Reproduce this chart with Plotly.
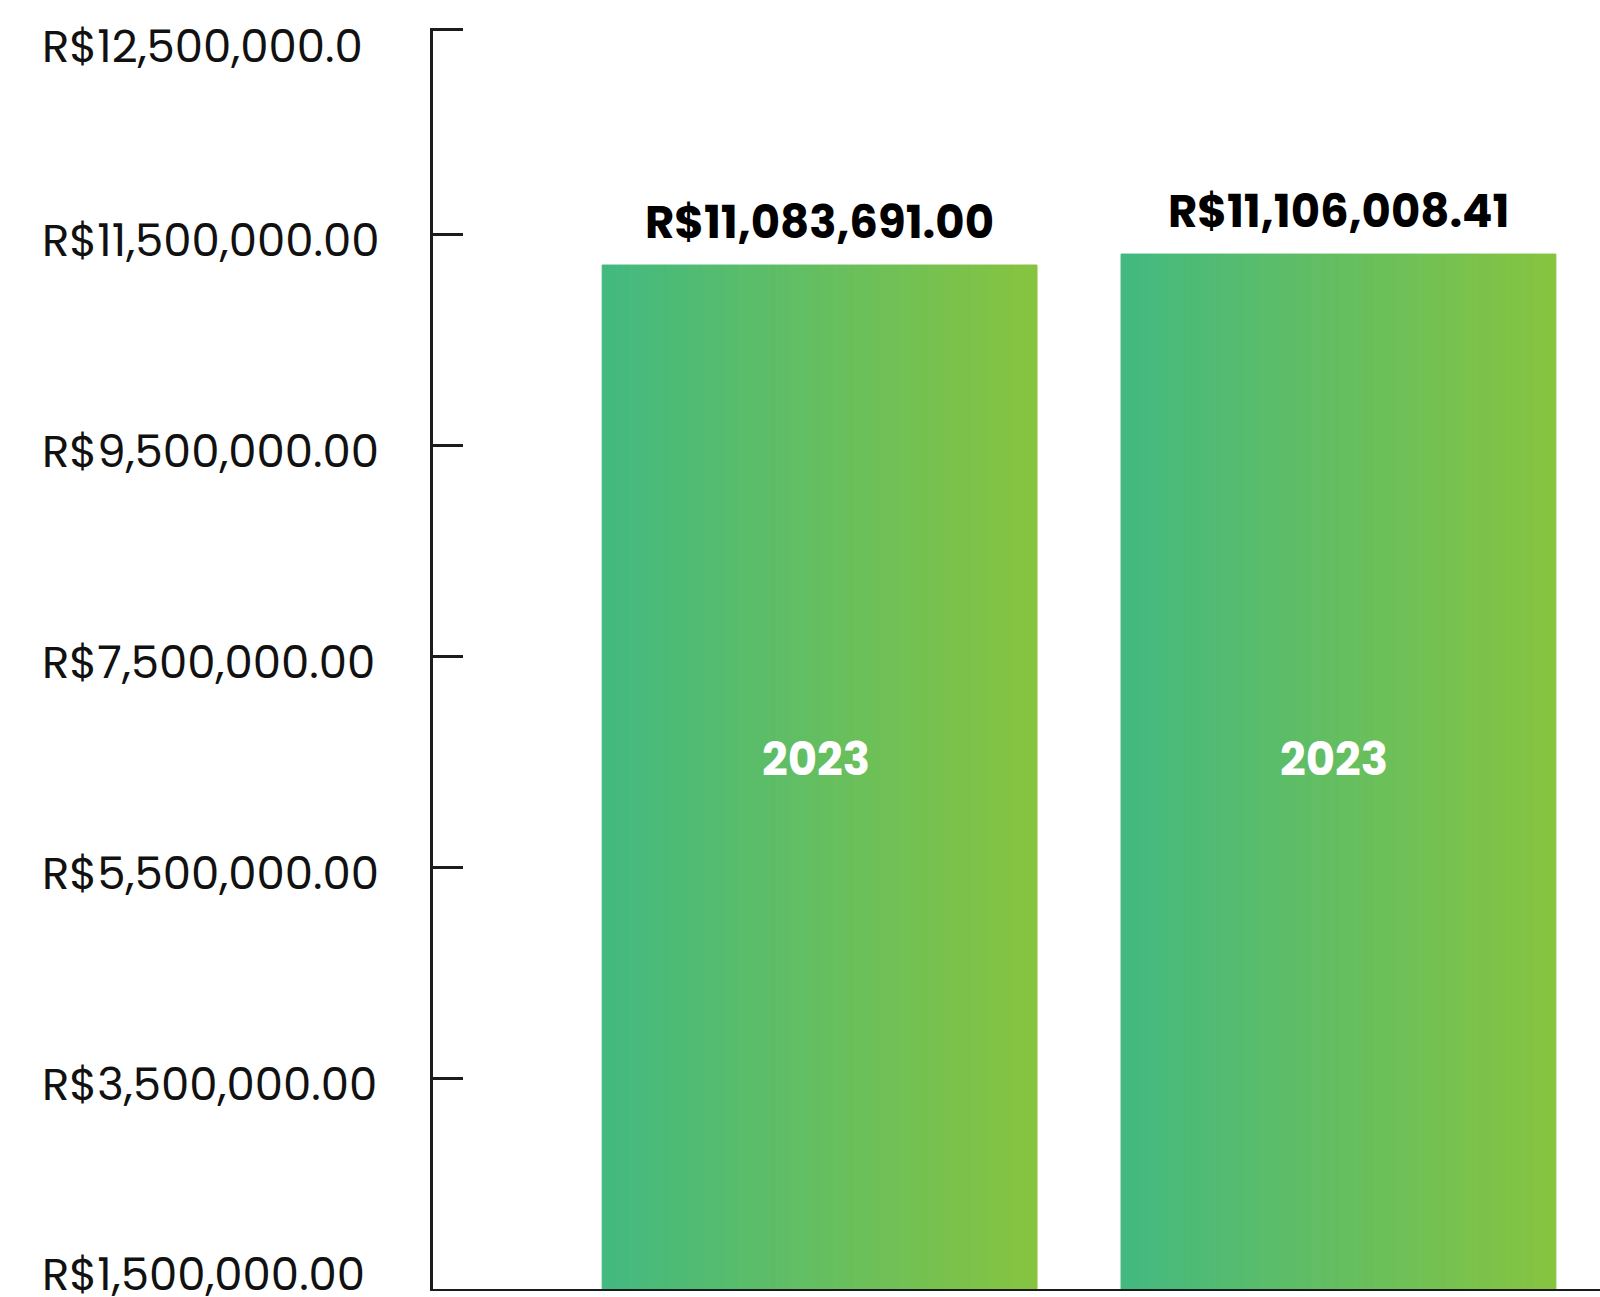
import plotly.graph_objects as go

# ---------------- data ----------------
categories = ["2023", "2023"]
values = [11083691.00, 11106008.41]
value_labels = ["R$11,083,691.00", "R$11,106,008.41"]
tick_values = [1500000, 3500000, 5500000, 7500000, 9500000, 11500000]
tick_labels = ["R$1,500,000.00", "R$3,500,000.00", "R$5,500,000.00",
               "R$7,500,000.00", "R$9,500,000.00", "R$11,500,000.00"]
top_label = "R$12,500,000.0"

# ---------------- style ----------------
W, H = 1600, 1297
margin = dict(l=433, r=0, t=28, b=8)
axis_range = [1500000, 13453000]     # visible axis
bar_range = [9000000, 11566000]      # scale the bars are drawn on
x_range = [-0.745, 1.504]
c_left = (67, 185, 128)
c_right = (134, 196, 64)
n_strips = 60
line_col = "#1c1c1c"
fam = "Poppins, Inter, sans-serif"
tick_font = dict(family=fam, size=45, color="#111111")
value_font = dict(family=fam, size=45, color="#000000", weight=700)
cat_font = dict(family=fam, size=45, color="#ffffff", weight=700)

xs = list(range(len(values)))

fig = go.Figure()
for k in range(n_strips):
    t = k / (n_strips - 1)
    col = "rgb(%d,%d,%d)" % tuple(round(a + (b - a) * t) for a, b in zip(c_left, c_right))
    mid = (k == n_strips // 2)
    fig.add_trace(go.Bar(
        x=xs, y=values, yaxis="y2",
        marker=dict(color=col, line=dict(width=1, color=col)),
        showlegend=False,
        hovertemplate="R$%{y:,.2f}<extra></extra>" if mid else None,
        hoverinfo=None if mid else "skip",
    ))

annotations = []
plot_w = W - margin["l"] - margin["r"]
label_x = (40 - margin["l"]) / plot_w
for i, (v, lab) in enumerate(zip(tick_values, tick_labels)):
    if i == 0:
        anchor, shift = "bottom", -19
    else:
        anchor, shift = "middle", -6
    annotations.append(dict(
        text=lab, x=label_x, xref="paper", xanchor="left",
        y=v, yref="y", yanchor=anchor, yshift=shift,
        showarrow=False, font=tick_font))
annotations.append(dict(
    text=top_label, x=label_x, xref="paper", xanchor="left",
    y=1, yref="paper", yanchor="top", yshift=15,
    showarrow=False, font=tick_font))

for i, (v, lab, cat) in enumerate(zip(values, value_labels, categories)):
    annotations.append(dict(
        text=lab, x=i, xref="x", xanchor="center",
        y=v, yref="y2", yanchor="bottom", yshift=9,
        showarrow=False, font=value_font))
    annotations.append(dict(
        text=cat, x=i, xref="x", xanchor="center", xshift=-4,
        y=0.42, yref="paper", yanchor="middle",
        showarrow=False, font=cat_font))

fig.update_layout(
    width=W, height=H, margin=margin,
    paper_bgcolor="white", plot_bgcolor="white",
    barmode="group", bargap=0.162, bargroupgap=0,
    annotations=annotations,
    xaxis=dict(range=x_range, showline=True, linecolor=line_col, linewidth=2,
               showticklabels=False, ticks="", showgrid=False, zeroline=False,
               layer="below traces", fixedrange=True),
    yaxis=dict(range=axis_range, tickvals=tick_values + [axis_range[1] - 16000],
               ticks="inside", ticklen=30, tickwidth=2.5, tickcolor=line_col,
               showline=True, linecolor=line_col, linewidth=2.5,
               showticklabels=False, showgrid=False, zeroline=False,
               fixedrange=True),
    yaxis2=dict(range=bar_range, overlaying="y", visible=False, fixedrange=True),
)

fig.write_html("out.html", config={"displayModeBar": False},
               post_script="document.body.style.margin='0';document.body.style.overflow='hidden';")
